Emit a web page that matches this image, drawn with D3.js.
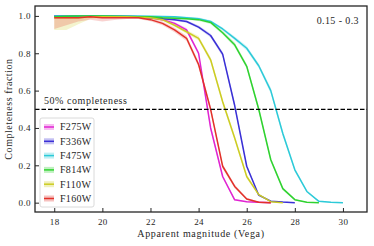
<!DOCTYPE html>
<html>
<head>
<meta charset="utf-8">
<script src="https://cdn.jsdelivr.net/npm/d3@7"></script>
<style>
  body { margin: 0; background: #fff; }
  text { font-family: "Liberation Serif", "DejaVu Serif", serif; fill: #262626; }
</style>
</head>
<body>
<div id="main"></div>
<script>
// magnitudes sampled every 0.5 mag starting at 18
const mags = [18, 18.5, 19, 19.5, 20, 20.5, 21, 21.5, 22, 22.5, 23, 23.5, 24, 24.5,
              25, 25.5, 26, 26.5, 27, 27.5, 28, 28.5, 29, 29.5, 30];

const filters = ['F275W', 'F336W', 'F475W', 'F814W', 'F110W', 'F160W'];
const colors = ['#e024d2', '#3a30d6', '#2ccad8', '#2fd22f', '#cccc22', '#e2312a'];

// completeness per filter
const f275w = [1.0, 1.0, 1.0, 1.0, 1.0, 1.0, 0.998, 0.995, 0.99, 0.98, 0.96, 0.925, 0.80, 0.40,
               0.14, 0.015, 0.005, 0.002, 0.0];
const f336w = [1.0, 1.0, 1.0, 1.0, 1.0, 0.998, 0.997, 0.995, 0.99, 0.985, 0.98, 0.97, 0.94, 0.895,
               0.795, 0.52, 0.195, 0.04, 0.008, 0.003, 0.0];
const f475w = [1.0, 1.0, 1.0, 1.0, 1.0, 1.0, 1.0, 1.0, 0.998, 0.997, 0.995, 0.99, 0.985, 0.97,
               0.93, 0.88, 0.827, 0.733, 0.60, 0.37, 0.176, 0.06, 0.007, 0.002, 0.0];
const f814w = [0.995, 0.998, 1.0, 1.0, 1.0, 0.998, 0.997, 0.995, 0.995, 0.99, 0.988, 0.985, 0.98, 0.965,
               0.91, 0.845, 0.73, 0.50, 0.23, 0.075, 0.016, 0.002, 0.0];
const f110w = [0.99, 0.99, 0.99, 0.995, 0.995, 0.995, 0.995, 0.993, 0.99, 0.98, 0.95, 0.915, 0.88, 0.765,
               0.54, 0.346, 0.14, 0.043, 0.005, 0.0];
const f160w = [0.99, 0.99, 0.99, 0.995, 0.99, 0.99, 0.99, 0.99, 0.98, 0.96, 0.925, 0.88, 0.74, 0.50,
               0.195, 0.087, 0.02, 0.002, 0.0];

// uncertainty half widths (shaded bands)
const e275w = [0.004, 0.004, 0.004, 0.004, 0.004, 0.004, 0.004, 0.004, 0.005, 0.006, 0.008, 0.01, 0.012, 0.015,
               0.01, 0.005, 0.003, 0.002, 0.002];
const e336w = [0.003, 0.003, 0.003, 0.003, 0.003, 0.003, 0.003, 0.004, 0.004, 0.005, 0.006, 0.007, 0.008, 0.01,
               0.012, 0.015, 0.01, 0.005, 0.003, 0.002, 0.002];
const e475w = [0.003, 0.003, 0.003, 0.003, 0.003, 0.003, 0.003, 0.003, 0.003, 0.004, 0.004, 0.005, 0.006, 0.007,
               0.008, 0.01, 0.012, 0.012, 0.015, 0.015, 0.01, 0.006, 0.003, 0.002, 0.002];
const e814w = [0.006, 0.004, 0.003, 0.003, 0.003, 0.003, 0.003, 0.003, 0.004, 0.004, 0.005, 0.006, 0.007, 0.008,
               0.01, 0.012, 0.012, 0.015, 0.012, 0.008, 0.004, 0.002, 0.002];
const e110w = [0.065, 0.065, 0.035, 0.01, 0.006, 0.005, 0.005, 0.005, 0.006, 0.007, 0.008, 0.01, 0.012, 0.014,
               0.015, 0.014, 0.01, 0.006, 0.003, 0.002];
const e160w = [0.06, 0.04, 0.02, 0.015, 0.02, 0.012, 0.006, 0.006, 0.008, 0.01, 0.012, 0.014, 0.015, 0.015,
               0.012, 0.01, 0.006, 0.003, 0.002];

const values = [f275w, f336w, f475w, f814w, f110w, f160w];
const errors = [e275w, e336w, e475w, e814w, e110w, e160w];

const xTicks = [18, 20, 22, 24, 26, 28, 30];
const yTicks = [0.0, 0.2, 0.4, 0.6, 0.8, 1.0];

const width = 374, height = 246;
const margin = {left: 35, right: 7, top: 6, bottom: 34};

const series = filters.map((name, i) => ({
  name: name,
  color: colors[i],
  points: values[i].map((v, j) => ({m: mags[j], v: v, e: errors[i][j]}))
}));

const svg = d3.select('#main')
  .append('svg')
    .attr('width', width)
    .attr('height', height);

const x = d3.scaleLinear().domain([17.2, 31.0]).range([margin.left, width - margin.right]);
const y = d3.scaleLinear().domain([-0.05, 1.053]).range([height - margin.bottom, margin.top]);

// bands
const area = d3.area()
  .x(d => x(d.m))
  .y0(d => y(Math.max(0, d.v - d.e)))
  .y1(d => y(Math.min(1, d.v + d.e)));

svg.append('g').selectAll('path')
  .data(series)
  .enter()
  .append('path')
    .attr('d', d => area(d.points))
    .attr('fill', d => d.color)
    .attr('fill-opacity', 0.22)
    .attr('stroke', 'none');

// lines
const line = d3.line().x(d => x(d.m)).y(d => y(d.v));

svg.append('g').selectAll('path')
  .data(series)
  .enter()
  .append('path')
    .attr('d', d => line(d.points))
    .attr('fill', 'none')
    .attr('stroke', d => d.color)
    .attr('stroke-width', 1.5)
    .attr('stroke-linejoin', 'round');

// 50% line
svg.append('line')
  .attr('x1', x.range()[0]).attr('x2', x.range()[1])
  .attr('y1', y(0.5)).attr('y2', y(0.5))
  .attr('stroke', '#000')
  .attr('stroke-width', 1.3)
  .attr('stroke-dasharray', '4.5,2');

svg.append('text')
  .attr('x', 44).attr('y', y(0.5) - 5)
  .style('font-size', '10px')
  .style('letter-spacing', '0.55px')
  .text('50% completeness');

// axes, ticks pointing inward
const xAxis = svg.append('g')
  .attr('transform', `translate(0,${height - margin.bottom})`)
  .call(d3.axisBottom(x).tickValues(xTicks).tickSizeInner(-4).tickSizeOuter(0).tickPadding(7).tickFormat(d3.format('d')));
const yAxis = svg.append('g')
  .attr('transform', `translate(${margin.left},0)`)
  .call(d3.axisLeft(y).tickValues(yTicks).tickSizeInner(-4).tickSizeOuter(0).tickPadding(4).tickFormat(d3.format('.1f')));

[xAxis, yAxis].forEach(g => {
  g.select('.domain').remove();
  g.selectAll('.tick line').attr('stroke', '#262626').attr('stroke-width', 1);
  g.selectAll('.tick text').style('font-size', '9px').attr('fill', '#262626')
    .style('letter-spacing', '0.4px')
    .style('font-family', '"Liberation Serif", serif');
});

// frame
svg.append('rect')
  .attr('x', margin.left).attr('y', margin.top)
  .attr('width', width - margin.left - margin.right)
  .attr('height', height - margin.top - margin.bottom)
  .attr('fill', 'none')
  .attr('stroke', '#262626')
  .attr('stroke-width', 1.3);

// labels
svg.append('text')
  .attr('x', 201)
  .attr('y', 237)
  .attr('text-anchor', 'middle')
  .style('font-size', '10px')
  .style('letter-spacing', '0.65px')
  .text('Apparent magnitude (Vega)');

svg.append('text')
  .attr('transform', `translate(12,${(margin.top + height - margin.bottom) / 2}) rotate(-90)`)
  .attr('text-anchor', 'middle')
  .style('font-size', '10px')
  .style('letter-spacing', '0.55px')
  .text('Completeness fraction');

svg.append('text')
  .attr('x', 359).attr('y', 24)
  .attr('text-anchor', 'end')
  .style('font-size', '10px')
  .style('letter-spacing', '0.4px')
  .text('0.15 - 0.3');

// legend
const legend = svg.append('g').attr('transform', 'translate(40,118)');
legend.append('rect')
  .attr('width', 54).attr('height', 89)
  .attr('rx', 2)
  .attr('fill', '#fff').attr('fill-opacity', 0.85)
  .attr('stroke', '#d0d0d0').attr('stroke-width', 0.8);

const rows = legend.selectAll('.row')
  .data(series)
  .enter()
  .append('g')
    .attr('class', 'row')
    .attr('transform', (d, i) => `translate(0,${9 + i * 14.3})`);

rows.append('rect')
  .attr('x', 4).attr('y', -3).attr('width', 10).attr('height', 6)
  .attr('fill', d => d.color).attr('fill-opacity', 0.3);
rows.append('line')
  .attr('x1', 4).attr('x2', 14)
  .attr('stroke', d => d.color).attr('stroke-width', 1.5);
rows.append('text')
  .attr('x', 20).attr('y', 3.4)
  .style('font-size', '10px')
  .style('letter-spacing', '0.3px')
  .text(d => d.name);
</script>
</body>
</html>
